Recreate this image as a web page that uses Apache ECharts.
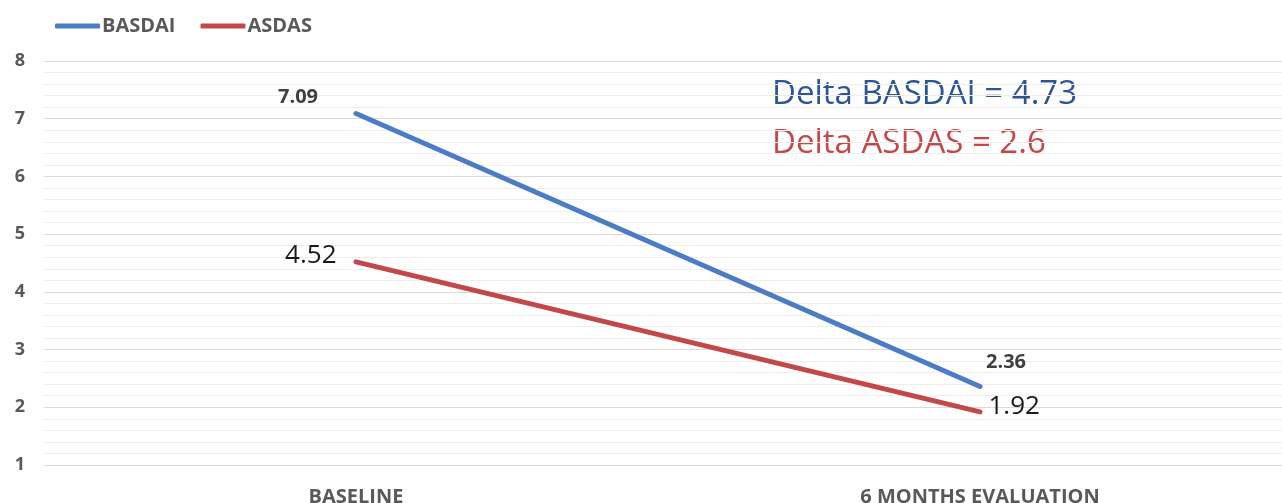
<!DOCTYPE html>
<html><head><meta charset="utf-8">
<script src="https://cdn.jsdelivr.net/npm/echarts@6/dist/echarts.min.js"></script>
<style>html,body{margin:0;padding:0;background:#fff}#c{width:1282px;height:503px}</style>
</head><body><div id="c"></div>
<script>
const categories = ['BASELINE', '6 MONTHS EVALUATION'];
const basdai = [7.09, 2.36];
const asdas = [4.52, 1.92];
const yTicks = [1, 2, 3, 4, 5, 6, 7, 8];
const annotations = ['Delta BASDAI = 4.73', 'Delta ASDAS = 2.6'];

const FONT = '"Open Sans", "Noto Sans", sans-serif';
const blue = '#4A7DC4', red = '#C3484A';

const basdaiLabels = [
  {position: 'top', offset: [-58, -1]},
  {position: 'top', offset: [26, -9]}
];
const asdasLabels = [
  {position: 'left', offset: [-14, -6]},
  {position: 'right', offset: [3, -5]}
];

const chart = echarts.init(document.getElementById('c'));
chart.setOption({
  animation: false,
  backgroundColor: '#fff',
  legend: {
    left: 50, top: 11, itemWidth: 45, itemHeight: 5, itemGap: 25, icon: 'roundRect',
    textStyle: {fontFamily: FONT, fontWeight: 'bold', fontSize: 20, color: '#595959', padding: [0,0,0,-3]},
    data: ['BASDAI', 'ASDAS']
  },
  grid: {left: 44, width: 1248, top: 61, bottom: 38, outerBoundsMode: 'none', containLabel: false},
  xAxis: {
    type: 'category', data: categories, boundaryGap: true,
    axisLine: {show: false}, axisTick: {show: false},
    axisLabel: {fontFamily: FONT, fontWeight: 'bold', fontSize: 20, color: '#595959', margin: 22}
  },
  yAxis: {
    type: 'value', min: yTicks[0], max: yTicks[yTicks.length - 1], interval: 1,
    axisLine: {show: false}, axisTick: {show: false},
    axisLabel: {fontFamily: FONT, fontWeight: 'bold', fontSize: 18, color: '#595959', margin: 19},
    splitLine: {lineStyle: {color: '#E2D8D8', width: 1.2}},
    minorTick: {show: false, splitNumber: 5},
    minorSplitLine: {show: true, lineStyle: {color: '#F1EDED', width: 1}}
  },
  series: [
    {
      name: 'BASDAI', type: 'line', data: basdai.map((v, i) => ({value: v, label: basdaiLabels[i]})),
      symbol: 'circle', symbolSize: 1, itemStyle: {color: blue},
      lineStyle: {color: blue, width: 5, cap: 'round'},
      label: {show: true, fontFamily: FONT, fontWeight: 'bold', fontSize: 20, color: '#404040', formatter: p => p.value.toFixed(2)}
    },
    {
      name: 'ASDAS', type: 'line', data: asdas.map((v, i) => ({value: v, label: asdasLabels[i]})),
      symbol: 'circle', symbolSize: 1, itemStyle: {color: red},
      lineStyle: {color: red, width: 5, cap: 'round'},
      label: {show: true, fontFamily: FONT, fontSize: 26, color: '#1a1a1a', formatter: p => p.value.toFixed(2)}
    }
  ],
  graphic: [
    {type: 'text', x: 772, y: 95, style: {text: annotations[0], fontFamily: FONT, fontSize: 33, fill: '#2D5595', verticalAlign: 'middle'}},
    {type: 'text', x: 772, y: 144, style: {text: annotations[1], fontFamily: FONT, fontSize: 33, fill: '#C3484A', verticalAlign: 'middle'}}
  ]
});
</script></body></html>
